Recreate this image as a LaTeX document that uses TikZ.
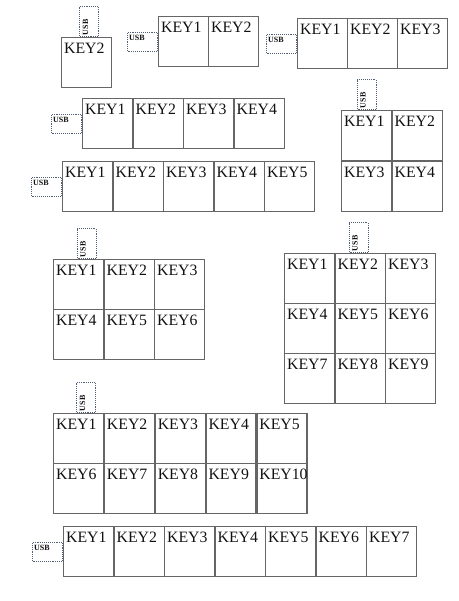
\documentclass[tikz,border=0pt]{standalone}
\usepackage{fontspec}
\setmainfont{Liberation Serif}
\usetikzlibrary{positioning}
\definecolor{keyline}{HTML}{666666}
\definecolor{usbline}{HTML}{4F5F78}
\definecolor{ink}{HTML}{111111}
\tikzset{
  keycell/.style={draw=keyline,line width=1.3pt,anchor=north west,inner xsep=2.5pt,inner ysep=0pt,
    text width=45pt,text height=16pt,text depth=34pt,align=left,font=\fontsize{15.8}{16}\selectfont,text=ink},
  usb/.style={draw=usbline,densely dotted,line width=0.9pt,fill=white,inner xsep=1.5pt,inner ysep=0pt,
    text width=27pt,text height=8.5pt,text depth=10.5pt,align=left,font=\fontsize{8}{9}\selectfont\bfseries,text=ink},
}
\begin{document}
\begin{tikzpicture}[x=1pt,y=-1pt]
\useasboundingbox (0,0) rectangle (458,601);
\node[keycell] (one-1) at (61,37) {KEY2};
\node[usb,rotate=90,anchor=west] (one-usb) at ([xshift=2.5pt]one-1.north) {USB};

\foreach \i in {1,2} \node[keycell] (two-\i) at ({158+50*(\i-1)},16) {KEY\i};
\node[usb,left=0pt of two-1] (two-usb) {USB};

\foreach \i in {1,...,3} \node[keycell] (three-\i) at ({297+50*(\i-1)},18) {KEY\i};
\node[usb,left=0pt of three-1] (three-usb) {USB};

\foreach \i in {1,...,4} \node[keycell] (four-\i) at ({82+50.5*(\i-1)},98) {KEY\i};
\node[usb,left=0pt of four-1] (four-usb) {USB};

\foreach \i in {1,...,5} \node[keycell] (five-\i) at ({62+50.5*(\i-1)},161) {KEY\i};
\node[usb,left=0pt of five-1] (five-usb) {USB};

\foreach \r in {0,1} \foreach \c in {1,2} {
  \pgfmathtruncatemacro\k{\r*2+\c}
  \node[keycell] (quad-\k) at ({341+50.5*(\c-1)},{110+51*\r}) {KEY\k};
}
\node[usb,rotate=90,anchor=west] (quad-usb) at (quad-1.north) {USB};

\foreach \r in {0,1} \foreach \c in {1,...,3} {
  \pgfmathtruncatemacro\k{\r*3+\c}
  \node[keycell] (six-\k) at ({53+50.5*(\c-1)},{259+50*\r}) {KEY\k};
}
\node[usb,rotate=90,anchor=west] (six-usb) at ([xshift=8pt]six-1.north) {USB};

\foreach \r in {0,...,2} \foreach \c in {1,...,3} {
  \pgfmathtruncatemacro\k{\r*3+\c}
  \node[keycell] (nine-\k) at ({284+50.5*(\c-1)},{253+50*\r}) {KEY\k};
}
\node[usb,rotate=90,anchor=west] (nine-usb) at ([xshift=-1.5pt]nine-2.north) {USB};

\foreach \r in {0,1} \foreach \c in {1,...,5} {
  \pgfmathtruncatemacro\k{\r*5+\c}
  \node[keycell] (ten-\k) at ({53+50.8*(\c-1)},{413+50*\r}) {KEY\k};
}
\node[usb,rotate=90,anchor=west] (ten-usb) at ([xshift=7.5pt]ten-1.north) {USB};

\foreach \i in {1,...,7} \node[keycell] (seven-\i) at ({63+50.5*(\i-1)},526) {KEY\i};
\node[usb,left=0pt of seven-1] (seven-usb) {USB};
\end{tikzpicture}
\end{document}
